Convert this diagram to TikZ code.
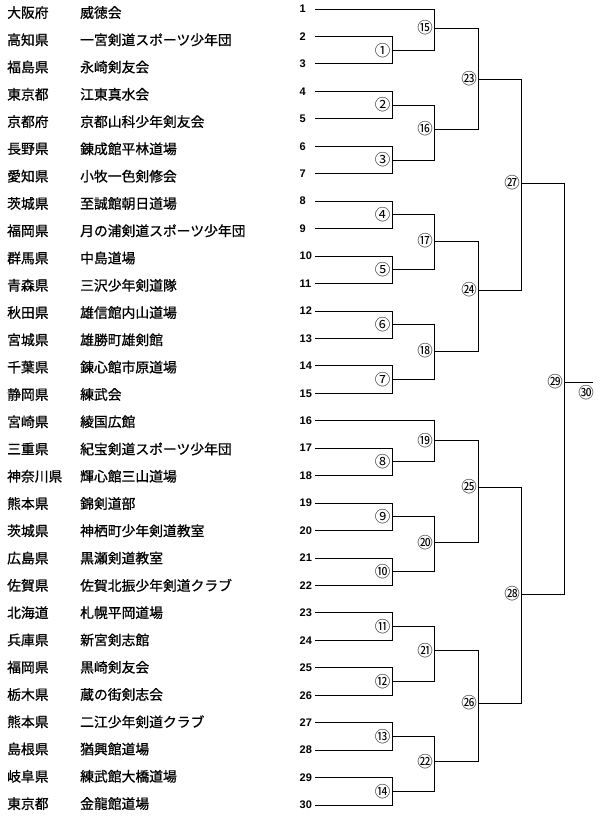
\documentclass[tikz,border=0pt]{standalone}
\usepackage{fontspec}
\newfontfamily\jptext[FakeBold=0.8]{Noto Sans CJK JP}
\newfontfamily\jpcirc{Noto Sans CJK JP}
\newfontfamily\numfont{Liberation Sans}
\begin{document}
\begin{tikzpicture}[x=1pt,y=-1pt,
  pref/.style={anchor=west, inner sep=0pt, font=\jptext\fontsize{13.8}{14}\selectfont},
  numlab/.style={anchor=west, inner sep=0pt, font=\numfont\bfseries\fontsize{11}{12}\selectfont},
  mlab/.style={anchor=east, inner sep=0pt, font=\jpcirc\fontsize{15.5}{16}\selectfont},
  bracket/.style={draw=black, line width=0.9pt}]
\useasboundingbox (0,0) rectangle (600,818);

% entries
\foreach \i/\p/\c in {
 1/大阪府/威徳会,
 2/高知県/一宮剣道スポーツ少年団,
 3/福島県/永崎剣友会,
 4/東京都/江東真水会,
 5/京都府/京都山科少年剣友会,
 6/長野県/錬成館平林道場,
 7/愛知県/小牧一色剣修会,
 8/茨城県/至誠館朝日道場,
 9/福岡県/月の浦剣道スポーツ少年団,
 10/群馬県/中島道場,
 11/青森県/三沢少年剣道隊,
 12/秋田県/雄信館内山道場,
 13/宮城県/雄勝町雄剣館,
 14/千葉県/錬心館市原道場,
 15/静岡県/練武会,
 16/宮崎県/綾国広館,
 17/三重県/紀宝剣道スポーツ少年団,
 18/神奈川県/輝心館三山道場,
 19/熊本県/錦剣道部,
 20/茨城県/神栖町少年剣道教室,
 21/広島県/黒瀬剣道教室,
 22/佐賀県/佐賀北振少年剣道クラブ,
 23/北海道/札幌平岡道場,
 24/兵庫県/新宮剣志館,
 25/福岡県/黒崎剣友会,
 26/栃木県/蔵の街剣志会,
 27/熊本県/二江少年剣道クラブ,
 28/島根県/猶興館道場,
 29/岐阜県/練武館大橋道場,
 30/東京都/金龍館道場}{
  \pgfmathsetmacro{\yl}{9+(\i-1)*27.45}
  \pgfmathsetmacro{\yt}{12.5+(\i-1)*27.28}
  \node[pref] (p\i) at (7,\yt) {\p};
  \node[pref] (c\i) at (80,\yt) {\c};
  \node[numlab] (n\i) at (299.5,\yl) {\i};
  \coordinate (s\i) at (315,\yl);
}

% match points (vertical x, output y)
\foreach \k/\y in {1/50.2,2/105.1,3/160,4/214.9,5/269.8,6/324.7,7/379.6,
                   8/461.9,9/516.8,10/571.7,11/626.6,12/681.5,13/736.4,14/791.3}
  {\coordinate (m\k) at (392,\y);}
\foreach \k/\y in {15/28,16/129,17/241,18/351,19/440.7,20/542.7,21/650.7,22/761.7}
  {\coordinate (m\k) at (434.5,\y);}
\foreach \k/\y in {23/79,24/290,25/487,26/703}
  {\coordinate (m\k) at (478.5,\y);}
\coordinate (m27) at (521.5,183);
\coordinate (m28) at (521.5,594);
\coordinate (m29) at (564.5,382);
\coordinate (fin) at (593,382);

% entry lines
\foreach \i/\k in {1/15,2/1,3/1,4/2,5/2,6/3,7/3,8/4,9/4,10/5,11/5,12/6,13/6,14/7,15/7,
                   16/19,17/8,18/8,19/9,20/9,21/10,22/10,23/11,24/11,25/12,26/12,
                   27/13,28/13,29/14,30/14}
  {\draw[bracket] (s\i) -| (m\k);}

% match connections
\foreach \a/\b in {1/15,2/16,3/16,4/17,5/17,6/18,7/18,8/19,9/20,10/20,11/21,12/21,13/22,14/22,
                   15/23,16/23,17/24,18/24,19/25,20/25,21/26,22/26,
                   23/27,24/27,25/28,26/28,27/29,28/29}
  {\draw[bracket] (m\a) -| (m\b);}
\draw[bracket] (m29) -- (fin);

% match labels
\foreach \k/\t in {1/①,2/②,3/③,4/④,5/⑤,6/⑥,7/⑦,8/⑧,9/⑨,10/⑩,11/⑪,12/⑫,13/⑬,14/⑭,
                   15/⑮,16/⑯,17/⑰,18/⑱,19/⑲,20/⑳,21/㉑,22/㉒,23/㉓,24/㉔,25/㉕,26/㉖,
                   27/㉗,28/㉘,29/㉙}
  {\node[mlab] (L\k) at ([xshift=-1.5pt]m\k) {\t};}
\node[mlab, anchor=center] (L30) at (586,393) {㉚};
\end{tikzpicture}
\end{document}
